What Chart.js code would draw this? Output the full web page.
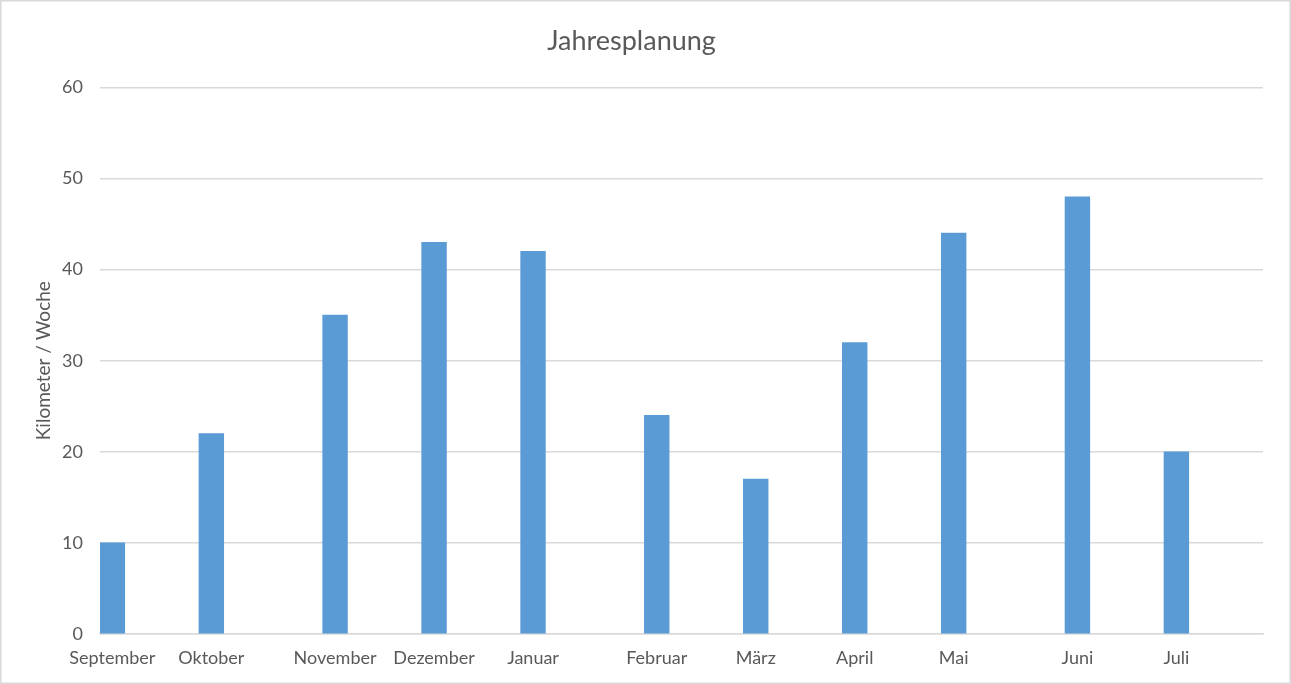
<!DOCTYPE html>
<html>
<head>
<meta charset="utf-8">
<script src="https://cdn.jsdelivr.net/npm/chart.js@4"></script>
<style>
  html, body { margin: 0; padding: 0; background: #fff; }
  #wrap { width: 1291px; height: 684px; position: relative; }
</style>
</head>
<body>
<div id="wrap"><canvas id="chart"></canvas></div>
<script>
// Monate und ihre Lage auf der Wochenachse (Woche ab September)
var months = ["September", "Oktober", "November", "Dezember", "Januar", "Februar", "März", "April", "Mai", "Juni", "Juli"];
var weekIndex = [0, 4, 9, 13, 17, 22, 26, 30, 34, 39, 43];
var kmPerWeek = [10, 22, 35, 43, 42, 24, 17, 32, 44, 48, 20];
var totalWeeks = 47;
var yTicks = [0, 10, 20, 30, 40, 50, 60];

// build the weekly slots the axis needs
var labels = [];
var values = [];
for (var i = 0; i < totalWeeks; i++) {
    labels.push("");
    values.push(null);
}
months.forEach(function (m, k) {
    labels[weekIndex[k]] = m;
    values[weekIndex[k]] = kmPerWeek[k];
});

var textColor = '#595959';
var font = "Lato, 'Open Sans', sans-serif";

var frame = {
    id: 'frame',
    beforeDraw: function (chart) {
        var ctx = chart.ctx;
        ctx.save();
        ctx.fillStyle = '#fff';
        ctx.fillRect(0, 0, chart.width, chart.height);
        ctx.strokeStyle = '#d9d9d9';
        ctx.lineWidth = 1.5;
        ctx.strokeRect(0.75, 0.75, chart.width - 1.5, chart.height - 1.5);
        ctx.restore();
    }
};

var chart = new Chart(document.getElementById('chart'), {
    type: 'bar',
    data: {
        labels: labels,
        datasets: [{
            label: 'Kilometer / Woche',
            data: values,
            backgroundColor: '#5b9bd5',
            borderWidth: 0,
            barPercentage: 1,
            categoryPercentage: 1
        }]
    },
    options: {
        responsive: true,
        maintainAspectRatio: false,
        animation: false,
        devicePixelRatio: 1,
        layout: { padding: { left: 0, right: 28, top: 0, bottom: 0 } },
        plugins: {
            legend: { display: false },
            tooltip: { enabled: false },
            title: {
                display: true,
                text: 'Jahresplanung',
                color: textColor,
                font: { family: font, size: 27, weight: 'normal', lineHeight: 1.2 },
                padding: { top: 25, bottom: 30 }
            }
        },
        scales: {
            x: {
                grid: { display: false, drawTicks: false },
                border: { display: true, color: '#d9d9d9', width: 1.5 },
                ticks: {
                    autoSkip: false,
                    maxRotation: 0,
                    color: textColor,
                    padding: 13,
                    font: { family: font, size: 18 }
                },
                afterFit: function (scale) { scale.height = 50; }
            },
            y: {
                min: 0,
                max: 60,
                afterBuildTicks: function (scale) {
                    scale.ticks = yTicks.map(function (v) { return { value: v }; });
                },
                grid: { color: '#d9d9d9', lineWidth: 1.5, drawTicks: false },
                border: { display: false },
                ticks: {
                    color: textColor,
                    padding: 17,
                    font: { family: font, size: 18 }
                },
                title: {
                    display: true,
                    text: 'Kilometer / Woche',
                    color: textColor,
                    font: { family: font, size: 19 },
                    padding: { top: 32, bottom: 0 }
                },
                afterFit: function (scale) { scale.width = 100; }
            }
        }
    },
    plugins: [frame]
});
</script>
</body>
</html>
